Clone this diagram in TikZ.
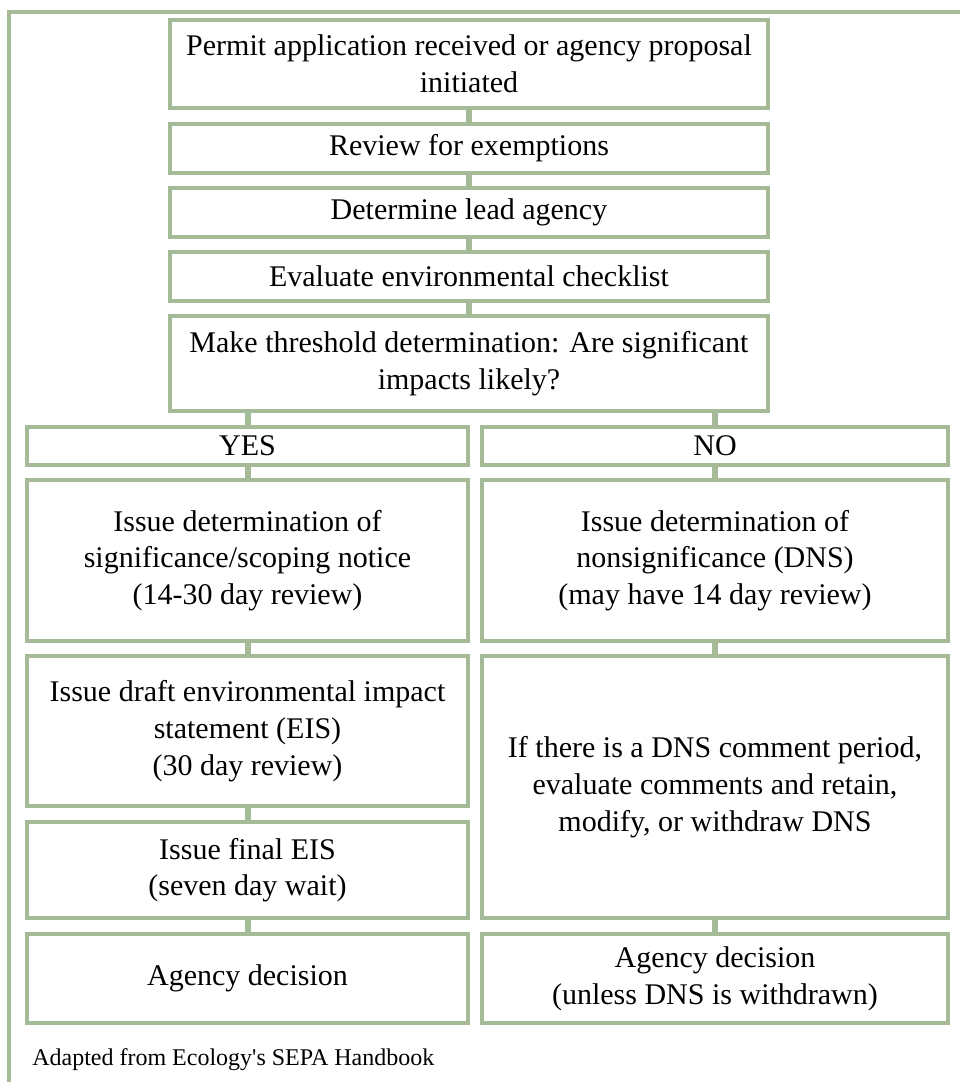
\documentclass[tikz,border=0pt]{standalone}
\usepackage{fontspec}
\setmainfont{Liberation Serif}[Ligatures=TeXOff]
\usetikzlibrary{fit}
\definecolor{sage}{RGB}{165,186,150}
\tikzset{
  box/.style={draw=sage, line width=2.6pt, inner sep=0pt},
  txt/.style={inner sep=0pt, align=center, font=\fontsize{22.5pt}{27.5pt}\selectfont},
  conn/.style={draw=sage, line width=4.5pt},
  frameline/.style={draw=sage, line width=3.4pt},
}
\begin{document}
\begin{tikzpicture}[x=0.75pt,y=-0.75pt]
\useasboundingbox (0,0) rectangle (960,1082);
\draw[frameline] (9,1082) -- (9,12) -- (960,12);
\node[box, fit={(170,20) (768,108)}] (b1) {};
\node[txt] (b1t) at (b1.center) {Permit application received or agency proposal\\initiated};
\node[box, fit={(170,124) (768,173)}] (b2) {};
\node[txt] (b2t) at (b2.center) {Review for exemptions};
\node[box, fit={(170,188) (768,237)}] (b3) {};
\node[txt] (b3t) at (b3.center) {Determine lead agency};
\node[box, fit={(170,252) (768,301)}] (b4) {};
\node[txt] (b4t) at (b4.center) {Evaluate environmental checklist};
\node[box, fit={(170,316) (768,411)}] (b5) {};
\node[txt] (b5t) at (b5.center) {Make threshold determination: Are significant\\impacts likely?};
\node[box, fit={(27,427) (468,465)}] (yes) {};
\node[txt] (yest) at (yes.center) {YES};
\node[box, fit={(482,427) (948,465)}] (no) {};
\node[txt] (not) at (no.center) {NO};
\node[box, fit={(27,480) (468,641)}] (l1) {};
\node[txt] (l1t) at (l1.center) {Issue determination of\\significance/scoping notice\\(14-30 day review)};
\node[box, fit={(482,480) (948,641)}] (r1) {};
\node[txt] (r1t) at (r1.center) {Issue determination of\\nonsignificance (DNS)\\(may have 14 day review)};
\node[box, fit={(27,656) (468,806)}] (l2) {};
\node[txt] (l2t) at (l2.center) {Issue draft environmental impact\\statement (EIS)\\(30 day review)};
\node[box, fit={(482,656) (948,918)}] (r2) {};
\node[txt] (r2t) at (r2.center) {If there is a DNS comment period,\\evaluate comments and retain,\\modify, or withdraw DNS};
\node[box, fit={(27,822) (468,918)}] (l3) {};
\node[txt] (l3t) at (l3.center) {Issue final EIS\\(seven day wait)};
\node[box, fit={(27,934) (468,1023)}] (l4) {};
\node[txt] (l4t) at (l4.center) {Agency decision};
\node[box, fit={(482,934) (948,1023)}] (r3) {};
\node[txt] (r3t) at (r3.center) {Agency decision\\(unless DNS is withdrawn)};
\draw[conn] (b1.south) -- (b2.north);
\draw[conn] (b2.south) -- (b3.north);
\draw[conn] (b3.south) -- (b4.north);
\draw[conn] (b4.south) -- (b5.north);
\draw[conn] (yes.north |- b5.south) -- (yes.north);
\draw[conn] (no.north |- b5.south) -- (no.north);
\draw[conn] (yes.south) -- (l1.north);
\draw[conn] (l1.south) -- (l2.north);
\draw[conn] (l2.south) -- (l3.north);
\draw[conn] (l3.south) -- (l4.north);
\draw[conn] (no.south) -- (r1.north);
\draw[conn] (r1.south) -- (r2.north);
\draw[conn] (r2.south) -- (r3.north);
\node[anchor=west, inner sep=0pt, font=\fontsize{18pt}{21pt}\selectfont] (src) at (32,1060) {Adapted from Ecology's SEPA Handbook};
\end{tikzpicture}
\end{document}
